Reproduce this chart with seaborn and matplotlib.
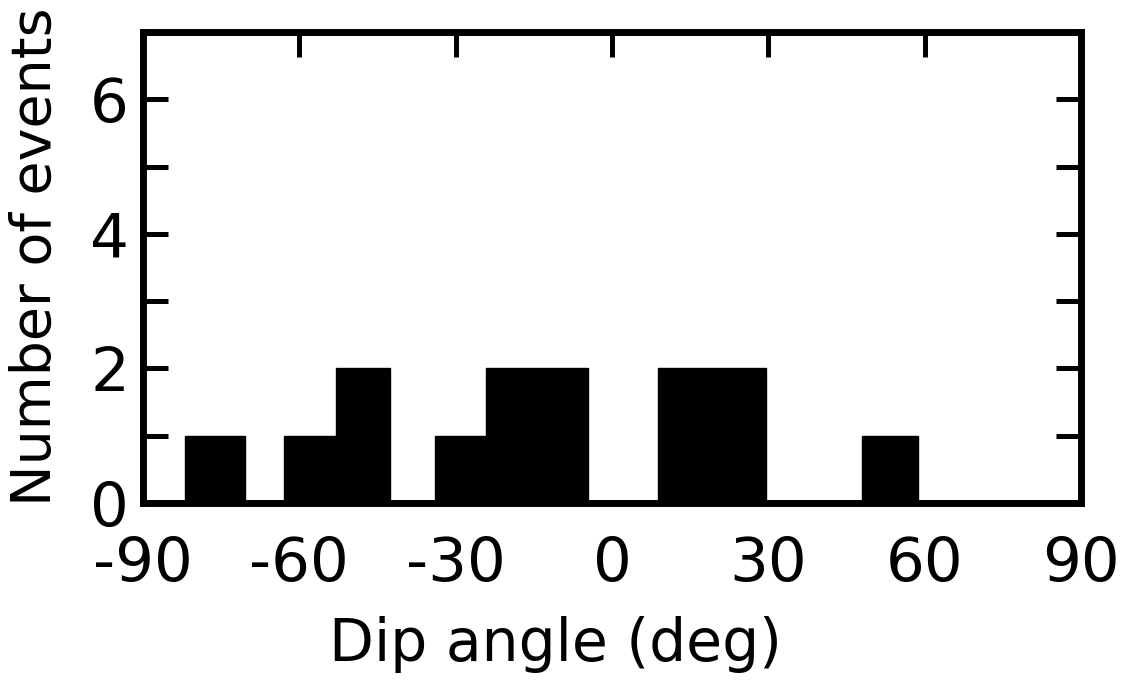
"""Histogram of event dip angles (number of events per dip-angle bin)."""

import matplotlib

matplotlib.use("Agg")
import matplotlib.pyplot as plt
import numpy as np
import pandas as pd
import seaborn as sns

# Bin edges (deg); the original bins are hand drawn, ~10 deg wide
dip_bin_edges = [-82, -70.5, -63, -53, -42.5, -34, -24.2, -14.4, -4.6,
                 8.8, 19.2, 29.6, 47.9, 58.7]
events_per_bin = [1, 0, 1, 2, 0, 1, 2, 2, 0, 2, 2, 0, 1]

x_ticks = [-90, -60, -30, 0, 30, 60, 90]
y_major = [0, 2, 4, 6]
y_minor = [1, 3, 5]

sns.set_theme(style="white")
plt.rcParams["font.family"] = ["DejaVu Sans"]

edges = np.array(dip_bin_edges)
df = pd.DataFrame({
    "dip": (edges[:-1] + edges[1:]) / 2,
    "events": events_per_bin,
})

fig = plt.figure(figsize=(11.41, 6.82), dpi=100)
ax = fig.add_axes([0.1253, 0.2625, 0.8221, 0.6905])

sns.histplot(
    data=df,
    x="dip",
    weights="events",
    bins=list(dip_bin_edges),
    color="black",
    edgecolor="black",
    linewidth=1,
    alpha=1,
    ax=ax,
)

ax.set_xlim(-90, 90)
ax.set_ylim(0, 7)
ax.set_xticks(x_ticks)
ax.set_xticklabels([str(v) for v in x_ticks])
ax.set_yticks(y_major)
ax.set_yticks(y_minor, minor=True)
ax.set_yticklabels([str(v) for v in y_major])

for spine in ax.spines.values():
    spine.set_visible(True)
    spine.set_color("black")
    spine.set_linewidth(5)

ax.tick_params(axis="x", which="major", bottom=False, top=True, direction="in",
               length=18, width=3.6, color="black", labelsize=44, pad=23,
               labelcolor="black")
ax.tick_params(axis="y", which="both", left=True, right=True, direction="in",
               length=18, width=3.6, color="black", labelsize=44, pad=10,
               labelcolor="black")
for line in ax.xaxis.get_ticklines() + ax.yaxis.get_ticklines() + ax.yaxis.get_ticklines(minor=True):
    line.set_solid_capstyle("round")

ax.set_xlabel("Dip angle (deg)", fontsize=42, color="black")
ax.xaxis.set_label_coords(0.44, -0.24)
ax.set_ylabel("Number of events", fontsize=40, color="black")
ax.yaxis.set_label_coords(-0.085, 0.524)

fig.savefig("out.png", dpi=100, facecolor="white")
